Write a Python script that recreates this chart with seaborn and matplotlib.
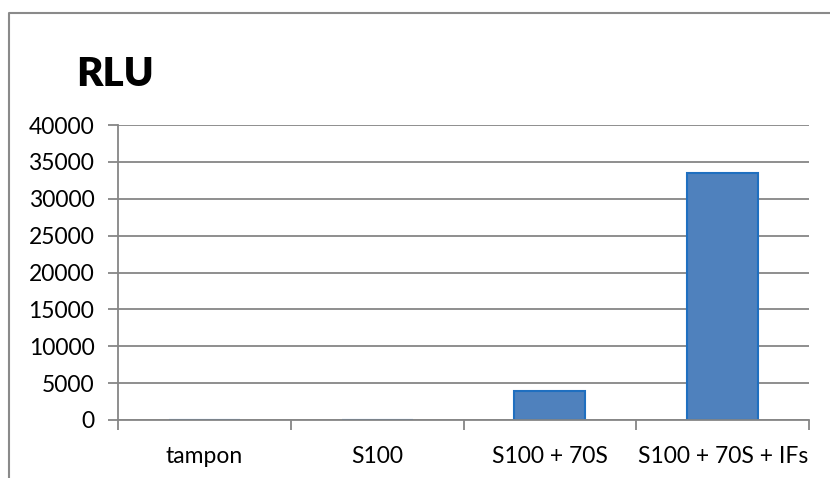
import numpy as np
import pandas as pd
import matplotlib.pyplot as plt
import seaborn as sns
from matplotlib.lines import Line2D

categories = ['tampon', 'S100', 'S100 + 70S', 'S100 + 70S + IFs']
rlu = [60, 60, 3900, 33500]
y_ticks = [0, 5000, 10000, 15000, 20000, 25000, 30000, 35000, 40000]

df = pd.DataFrame({'cond': categories, 'rlu': rlu})

sns.set_style('white')
plt.rcParams['font.family'] = ['Lato', 'DejaVu Sans']
plt.rcParams['text.color'] = 'black'
plt.rcParams['xtick.labelcolor'] = 'black'
plt.rcParams['ytick.labelcolor'] = 'black'

fig = plt.figure(figsize=(8.3, 4.78), dpi=100)
ax = fig.add_axes([118 / 830, 1 - 420 / 478, (809 - 118) / 830, (420 - 125) / 478])

grid_col = '#868686'
sns.barplot(data=df, x='cond', y='rlu', order=categories, color='#4F81BD',
            width=0.41, saturation=1, edgecolor='#1F6FC0', linewidth=1.5, ax=ax)

ax.set_ylim(0, 40000)
ax.set_xlim(-0.5, 3.5)
ax.set_yticks(y_ticks)
ax.set_yticklabels([str(v) for v in y_ticks])
ax.yaxis.grid(True, color=grid_col, linewidth=1.3)
ax.set_axisbelow(True)

# category boundaries get the tick marks, labels sit in the middle
ax.set_xticks(np.arange(-0.5, 4.0, 1.0))
ax.set_xticklabels([])
ax.set_xticks(np.arange(len(categories)), minor=True)
ax.set_xticklabels(categories, minor=True)
ax.tick_params(axis='x', which='major', length=7, width=1.3, color=grid_col, direction='out', bottom=True)
ax.tick_params(axis='x', which='minor', length=0, pad=19, labelsize=16.5)
ax.tick_params(axis='y', length=7, width=1.3, color=grid_col, direction='out', left=True, labelsize=16.5, pad=10)

ax.set_xlabel('')
ax.set_ylabel('')
for s in ['top', 'right']:
    ax.spines[s].set_visible(False)
for s in ['left', 'bottom']:
    ax.spines[s].set_color(grid_col)
    ax.spines[s].set_linewidth(1.3)

fig.text(76 / 830, 1 - 74 / 478, 'RLU', fontsize=29, fontweight='heavy', va='center', ha='left')

# chart frame (partly cropped in the reference)
fig.add_artist(Line2D([9 / 830, 9 / 830, 1], [0, 1 - 13 / 478, 1 - 13 / 478],
                      transform=fig.transFigure, color='#8a8a8a', linewidth=1.5))

fig.savefig('out.png', dpi=100)
